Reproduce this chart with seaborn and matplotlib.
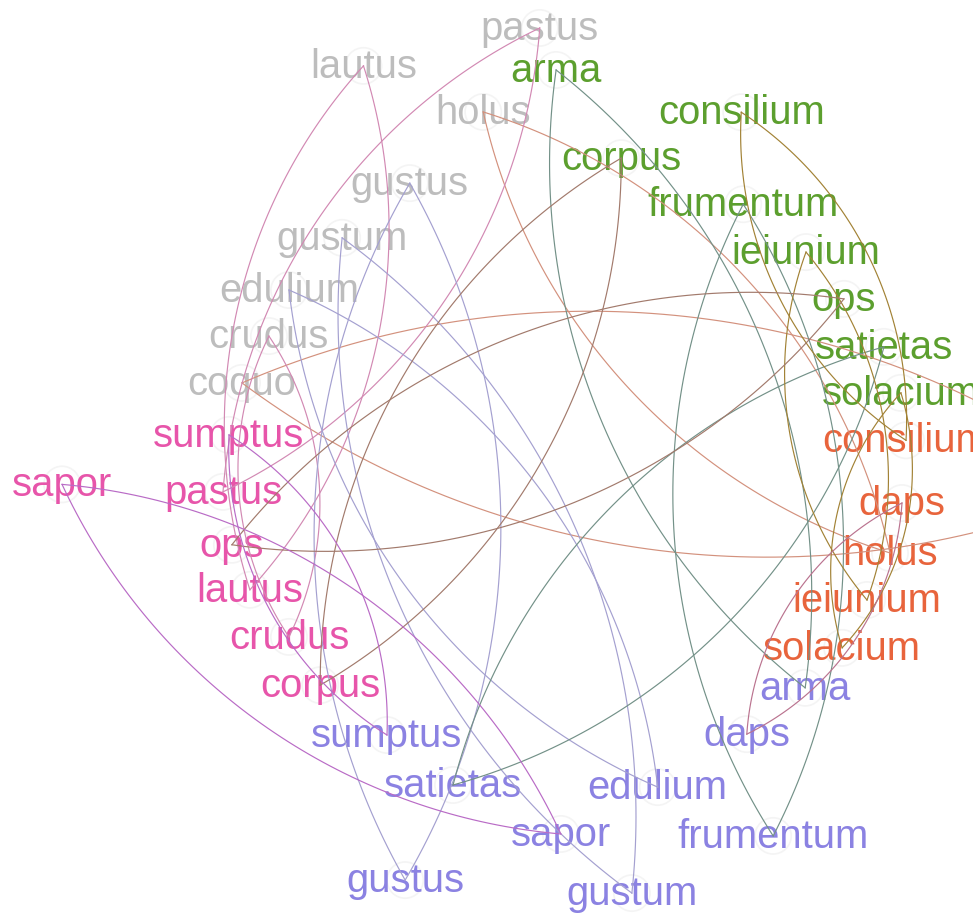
import numpy as np
import pandas as pd
import matplotlib.pyplot as plt
import matplotlib.transforms as mtransforms
import seaborn as sns

# Words in each group, listed in ring order (clockwise on screen)
grey_words = ["coquo", "crudus", "edulium", "gustum", "gustus", "holus", "lautus", "pastus"]
green_words = ["arma", "consilium", "corpus", "frumentum", "ieiunium", "ops", "satietas", "solacium"]
orange_words = ["consilium", "coquo", "daps", "holus", "ieiunium", "solacium"]
purple_words = ["arma", "daps", "edulium", "frumentum", "gustum", "gustus", "sapor", "satietas", "sumptus"]
pink_words = ["corpus", "crudus", "lautus", "ops", "pastus", "sapor", "sumptus"]

group_names = ["grey", "green", "orange", "purple", "pink"]
group_words = [grey_words, green_words, orange_words, purple_words, pink_words]
group_colors = {"grey": "#bdbdbd", "green": "#5c9f2e", "orange": "#e8643c",
                "purple": "#8b82e2", "pink": "#e755aa"}

# Layout tweaks of the ring (one per node, ring order): angle shift in degrees, radius
angle_nudge = [-3.5, -2.2, -1.6, 3.9, 11.4, 17.6, -7.5, 7.3,
               0.5, 18.2, -5.2, 7.9, 11.3, 11.4, 11.1, 8.9,
               6.5, 2.4, -3.1, -4.9, -6.5, -7.7,
               -8.8, -6.5, 0.8, -19.8, -9.8, 10.5, -20.5, -12.1, -7.4,
               -1.1, 0.4, 2.7, 2.5, 3.3, -3.1, -4.6]
ring_radius = [288.5, 280.0, 286.8, 284.6, 298.0, 350.0, 424.1, 432.5,
               391.7, 412.2, 318.4, 339.5, 353.6, 361.8, 381.1, 386.8,
               386.5, 595.5, 384.4, 381.5, 374.2, 372.9,
               365.0, 355.8, 354.9, 453.2, 447.3, 435.5, 376.2, 331.8, 305.5,
               301.0, 291.0, 299.7, 300.3, 298.7, 458.6, 292.1]

# build node table
rows = []
for g, words in zip(group_names, group_words):
    for w in words:
        rows.append({"word": w, "group": g})
nodes = pd.DataFrame(rows)
n = len(nodes)
step = 360.0 / n
theta = np.radians(199.0 + np.arange(n) * step + np.array(angle_nudge))
r = np.array(ring_radius)
nodes["x"] = r * np.cos(theta)
nodes["y"] = -r * np.sin(theta)  # screen clockwise


def mix(c1, c2):
    a = np.array(plt.matplotlib.colors.to_rgb(c1))
    b = np.array(plt.matplotlib.colors.to_rgb(c2))
    return tuple((a + b) / 2)


# links: a word that sits in two groups is joined both ways (lens of two arcs)
arc_rows = []
palette = {}
arc_id = 0
for w, sub in nodes.groupby("word", sort=False):
    if len(sub) < 2:
        continue
    a, b = sub.iloc[0], sub.iloc[1]
    key = "-".join(sorted([a["group"], b["group"]]))
    palette[key] = mix(group_colors[a["group"]], group_colors[b["group"]])
    p = np.array([a["x"], a["y"]])
    q = np.array([b["x"], b["y"]])
    L = np.linalg.norm(q - p)
    m = (p + q) / 2
    u = (q - p) / L
    nrm = np.array([-u[1], u[0]])
    for s in (1, -1):
        c = m + s * nrm * L * np.sqrt(3) / 2
        a0 = np.arctan2(*(p - c)[::-1])
        a1 = np.arctan2(*(q - c)[::-1])
        d = (a1 - a0 + np.pi) % (2 * np.pi) - np.pi
        t = np.linspace(0, 1, 80)
        for tt in t:
            ang = a0 + tt * d
            arc_rows.append({"x": c[0] + L * np.cos(ang), "y": c[1] + L * np.sin(ang),
                             "arc": arc_id, "kind": key})
        arc_id += 1
arcs = pd.DataFrame(arc_rows)

fig = plt.figure(figsize=(9.73, 9.14), dpi=100)
ax = fig.add_axes([0, 0, 1, 1])
ax.set_xlim(-520, 453)
ax.set_ylim(-454, 460)
ax.axis("off")

# faint halo round every node
sns.scatterplot(data=nodes, x="x", y="y", s=680, color="none", edgecolor="#f4f4f4",
                linewidth=1.2, ax=ax, legend=False, zorder=1)

# labels
offset = mtransforms.ScaledTranslation(0, -0.12, fig.dpi_scale_trans)
for _, row in nodes.iterrows():
    ax.text(row["x"], row["y"], row["word"], color=group_colors[row["group"]],
            fontsize=28.8, family="Liberation Sans", ha="center", va="baseline",
            transform=ax.transData + offset, zorder=2)

# arcs
sns.lineplot(data=arcs, x="x", y="y", units="arc", hue="kind", palette=palette,
             estimator=None, sort=False, legend=False, linewidth=0.85, ax=ax, zorder=3)

ax.set_xlim(-520, 453)
ax.set_ylim(-454, 460)
fig.savefig("out.png", dpi=100)
